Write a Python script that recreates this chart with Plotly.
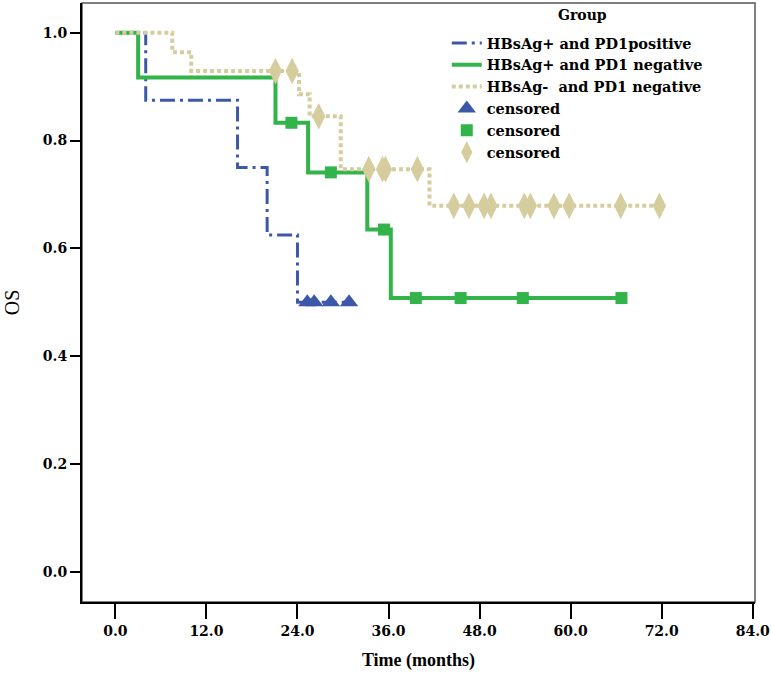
import plotly.graph_objects as go

# ---------------- data ----------------
# Group 1: HBsAg+ and PD1 positive
blue_event_t = [4.0, 16.1, 20.0, 24.0]
blue_event_s = [0.875, 0.750, 0.625, 0.500]
blue_cens_t = [25.3, 26.2, 28.4, 30.8]
blue_cens_s = [0.500, 0.500, 0.500, 0.500]

# Group 2: HBsAg+ and PD1 negative
green_event_t = [3.0, 21.1, 25.4, 33.2, 36.3]
green_event_s = [0.917, 0.833, 0.741, 0.635, 0.508]
green_cens_t = [23.2, 28.4, 35.4, 39.6, 45.5, 53.7, 66.7]
green_cens_s = [0.833, 0.741, 0.635, 0.508, 0.508, 0.508, 0.508]

# Group 3: HBsAg- and PD1 negative
tan_event_t = [7.5, 10.0, 24.2, 25.6, 29.7, 41.4]
tan_event_s = [0.964, 0.929, 0.886, 0.845, 0.747, 0.679]
tan_cens_t = [21.1, 23.3, 26.8, 33.4, 35.2, 35.6, 39.8, 44.6, 46.6, 48.6,
              49.5, 53.9, 54.7, 57.8, 59.8, 66.6, 71.7]
tan_cens_s = [0.929, 0.929, 0.845, 0.747, 0.747, 0.747, 0.747, 0.679, 0.679, 0.679,
              0.679, 0.679, 0.679, 0.679, 0.679, 0.679, 0.679]

group_names = ["HBsAg+ and PD1positive", "HBsAg+ and PD1 negative", "HBsAg-  and PD1 negative"]
censor_name = "censored"
legend_title = "Group"

x_ticks = [0, 12, 24, 36, 48, 60, 72, 84]
y_ticks = [0.0, 0.2, 0.4, 0.6, 0.8, 1.0]

BLUE = "#3C58A8"
GREEN = "#33B44A"
TAN = "#D5CD9E"
FONT = "Liberation Serif"
WIDE = "DejaVu Serif"


def km_path(ev_t, ev_s, cens_t):
    last = max([ev_t[-1]] + list(cens_t))
    xs = [0.0] + list(ev_t) + [last]
    ys = [1.0] + list(ev_s) + [ev_s[-1]]
    return xs, ys


fig = go.Figure()

bx, by = km_path(blue_event_t, blue_event_s, blue_cens_t)
gx, gy = km_path(green_event_t, green_event_s, green_cens_t)
tx, ty = km_path(tan_event_t, tan_event_s, tan_cens_t)

fig.add_trace(go.Scatter(x=bx, y=by, mode="lines", line_shape="hv", name=group_names[0],
                         line=dict(color=BLUE, width=3, dash="15px,5px,3px,5px")))
fig.add_trace(go.Scatter(x=gx, y=gy, mode="lines", line_shape="hv", name=group_names[1],
                         line=dict(color=GREEN, width=4)))
fig.add_trace(go.Scatter(x=tx, y=ty, mode="lines", line_shape="hv", name=group_names[2],
                         line=dict(color=TAN, width=4, dash="4px,3px")))

fig.add_trace(go.Scatter(x=blue_cens_t, y=blue_cens_s, mode="markers", name=censor_name,
                         marker=dict(symbol="triangle-up", size=16, color=BLUE)))
fig.add_trace(go.Scatter(x=green_cens_t, y=green_cens_s, mode="markers", name=censor_name,
                         marker=dict(symbol="square", size=12, color=GREEN)))
fig.add_trace(go.Scatter(x=tan_cens_t, y=tan_cens_s, mode="markers", name=censor_name,
                         marker=dict(symbol="diamond-tall", size=19, color=TAN)))

fig.update_layout(
    width=771, height=673,
    margin=dict(l=82, r=16, t=3, b=71, autoexpand=False),
    paper_bgcolor="white", plot_bgcolor="white",
    font=dict(family=FONT, color="black"),
    showlegend=True,
    legend=dict(
        x=0.542, y=0.96, xanchor="left", yanchor="top",
        bgcolor="rgba(0,0,0,0)", borderwidth=0,
        font=dict(family=WIDE, size=14.5, color="black", weight="bold"),
        tracegroupgap=0, itemsizing="trace",
    ),
    annotations=[dict(text=legend_title, xref="paper", yref="paper", x=0.744, y=0.98,
                      xanchor="center", yanchor="middle", showarrow=False,
                      font=dict(family=WIDE, size=14, color="black", weight="bold"))],
    xaxis=dict(
        range=[-4.4, 84.3], tickvals=x_ticks, tickformat=".1f",
        ticks="outside", ticklen=15, tickwidth=2, tickcolor="black",
        showline=True, linecolor="black", linewidth=2, mirror=False,
        showgrid=False, zeroline=False,
        tickfont=dict(family=WIDE, size=14, color="black", weight="bold"),
        title=dict(text="Time (months)", standoff=16,
                   font=dict(family=FONT, size=18, color="black", weight="bold")),
    ),
    yaxis=dict(
        range=[-0.0556, 1.0551], tickvals=y_ticks, tickformat=".1f",
        ticks="outside", ticklen=10, tickwidth=2, tickcolor="black",
        showline=True, linecolor="black", linewidth=2, mirror=False,
        showgrid=False, zeroline=False,
        tickfont=dict(family=WIDE, size=14, color="black", weight="bold"),
        title=dict(text="OS", standoff=18,
                   font=dict(family=FONT, size=20, color="black")),
    ),
    shapes=[dict(type="rect", xref="paper", yref="paper", x0=0, y0=0, x1=1, y1=1,
                 line=dict(color="#555555", width=1.5), layer="below")],
)

fig.write_html(
    "out.html",
    config={"displayModeBar": False},
    post_script="document.body.style.margin='0';document.body.style.padding='0';"
                "document.documentElement.style.overflow='hidden';",
)
